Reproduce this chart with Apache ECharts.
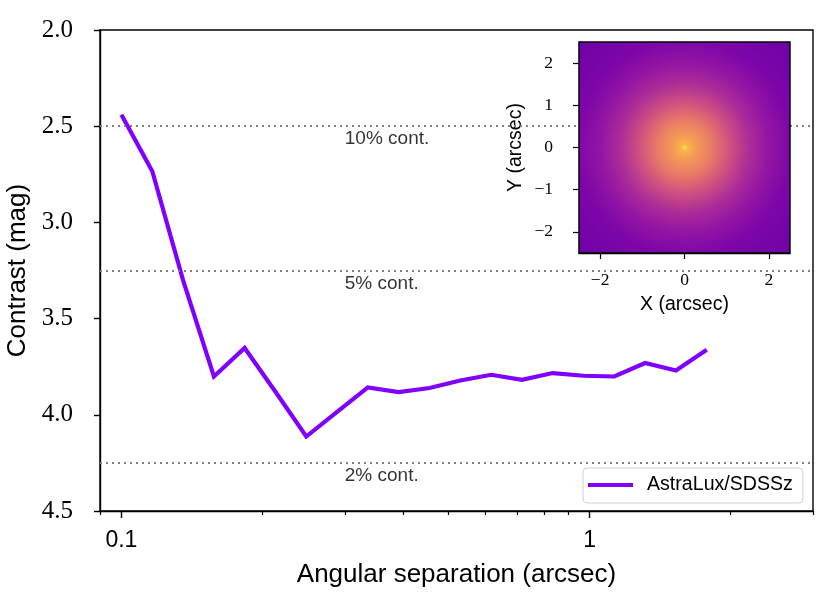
<!DOCTYPE html>
<html><head><meta charset="utf-8">
<script src="https://cdn.jsdelivr.net/npm/echarts@6/dist/echarts.min.js"></script>
<style>html,body{margin:0;padding:0;background:#fff}#c{width:830px;height:602px}</style>
</head><body><div id="c"></div>
<script>
// ---- data ----
const separations = [0.1, 0.1164, 0.1354, 0.1576, 0.1833, 0.2133, 0.2482, 0.2888, 0.3360, 0.3910,
                     0.4550, 0.5294, 0.6160, 0.7168, 0.8340, 0.9705, 1.129, 1.314, 1.529, 1.779];
const contrast = [2.44, 2.734, 3.30, 3.801, 3.653, 3.88, 4.113, 3.985, 3.858, 3.882,
                  3.861, 3.822, 3.792, 3.818, 3.783, 3.797, 3.801, 3.731, 3.770, 3.662];
const seriesName = 'AstraLux/SDSSz';
const contLevels = [2.5, 3.25, 4.25];
const contLabels = ['10% cont.', '5% cont.', '2% cont.'];
const contLabelX = 0.3;
const xMajorTicks = [0.1, 1];
const xMinorTicks = [0.09, 0.2, 0.3, 0.4, 0.5, 0.6, 0.7, 0.8, 0.9, 2, 3];
const xRange = [0.09, 3];
const yRange = [2.0, 4.5];
const yInterval = 0.5;
const insetRange = [-2.5, 2.5];
const insetXTicks = [-2, 0, 2];
const insetYTicks = [-2, -1, 0, 1, 2];

// ---- styles ----
const SANS = 'Liberation Sans, Arial, sans-serif';
const SERIF = 'Liberation Serif, Times New Roman, serif';
const lg = Math.log10;
const fmtMinus = v => (v < 0 ? '\u2212' + Math.abs(v) : String(v));

const chart = echarts.init(document.getElementById('c'));
chart.setOption({
  animation: false,
  backgroundColor: '#fff',
  grid: [
    { left: 100, top: 30, right: 17, bottom: 91, outerBoundsMode: 'none', containLabel: false,
      show: true, borderColor: '#000', borderWidth: 1.4, backgroundColor: 'transparent' },
    { left: 579, top: 42, width: 211, height: 211, outerBoundsMode: 'none', containLabel: false,
      show: true, z: 10, borderColor: '#000', borderWidth: 1.4,
      backgroundColor: { type: 'radial', x: 0.5, y: 0.5, r: 0.71, colorStops: [
        { offset: 0.0, color: '#f6ec35' },
        { offset: 0.018, color: '#f9b845' },
        { offset: 0.07, color: '#f59c55' },
        { offset: 0.18, color: '#ea7b66' },
        { offset: 0.30, color: '#cf5180' },
        { offset: 0.43, color: '#ad2c98' },
        { offset: 0.57, color: '#9114a4' },
        { offset: 0.71, color: '#7e06a8' },
        { offset: 1.0, color: '#6c01a8' }
      ] } }
  ],
  legend: {
    left: 583, top: 468, icon: 'rect', itemWidth: 45, itemHeight: 4,
    padding: [7, 10, 8, 5], backgroundColor: '#fff', borderColor: '#d0d0d0', borderWidth: 1, borderRadius: 4,
    textStyle: { fontFamily: SANS, fontSize: 19.6, color: '#000', padding: [0, 0, 0, 9] },
    data: [seriesName]
  },
  xAxis: [
    { gridIndex: 0, type: 'value', min: lg(xRange[0]), max: lg(xRange[1]), position: 'bottom',
      name: 'Angular separation (arcsec)', nameLocation: 'middle', nameGap: 51,
      nameTextStyle: { fontFamily: SANS, fontSize: 26, color: '#000' },
      axisLine: { show: true, onZero: false, lineStyle: { color: '#000', width: 1.4 } },
      axisTick: { show: true, customValues: xMajorTicks.map(lg), length: 7, lineStyle: { color: '#000', width: 1.4 } },
      axisLabel: { show: true, customValues: xMajorTicks.map(lg), margin: 18, fontFamily: SANS, fontSize: 23, color: '#000',
        formatter: v => String(+Math.pow(10, v).toPrecision(3)) },
      splitLine: { show: false } },
    { gridIndex: 0, type: 'value', min: lg(xRange[0]), max: lg(xRange[1]), position: 'bottom', offset: 0,
      axisLine: { show: false },
      axisTick: { show: true, customValues: xMinorTicks.map(lg), length: 4, lineStyle: { color: '#000', width: 1.2 } },
      axisLabel: { show: false }, splitLine: { show: false } },
    { gridIndex: 1, type: 'value', min: insetRange[0], max: insetRange[1], position: 'bottom',
      name: 'X (arcsec)', nameLocation: 'middle', nameGap: 42,
      nameTextStyle: { fontFamily: SANS, fontSize: 19.5, color: '#000' },
      axisLine: { show: true, onZero: false, lineStyle: { color: '#000', width: 1.4 } },
      axisTick: { show: true, customValues: insetXTicks, length: 6, lineStyle: { color: '#000', width: 1.2 } },
      axisLabel: { show: true, customValues: insetXTicks, margin: 18, fontFamily: SERIF, fontSize: 17.5, color: '#000', formatter: fmtMinus },
      splitLine: { show: false } }
  ],
  yAxis: [
    { gridIndex: 0, type: 'value', inverse: true, min: yRange[0], max: yRange[1], interval: yInterval,
      name: 'Contrast (mag)', nameLocation: 'middle', nameGap: 59,
      nameTextStyle: { fontFamily: SANS, fontSize: 26, color: '#000' },
      axisLine: { show: true, onZero: false, lineStyle: { color: '#000', width: 1.4 } },
      axisTick: { show: true, length: 6, lineStyle: { color: '#000', width: 1.4 } },
      axisLabel: { margin: 27, fontFamily: SERIF, fontSize: 25, color: '#000', formatter: v => v.toFixed(1) },
      splitLine: { show: false } },
    { gridIndex: 1, type: 'value', min: insetRange[0], max: insetRange[1],
      name: 'Y (arcsec)', nameLocation: 'middle', nameGap: 53,
      nameTextStyle: { fontFamily: SANS, fontSize: 19.5, color: '#000' },
      axisLine: { show: true, onZero: false, lineStyle: { color: '#000', width: 1.4 } },
      axisTick: { show: true, customValues: insetYTicks, length: 6, lineStyle: { color: '#000', width: 1.2 } },
      axisLabel: { show: true, customValues: insetYTicks, margin: 26, fontFamily: SERIF, fontSize: 17.5, color: '#000', formatter: fmtMinus },
      splitLine: { show: false } }
  ],
  series: [
    { name: seriesName, type: 'line', xAxisIndex: 0, yAxisIndex: 0,
      data: separations.map((s, i) => [lg(s), contrast[i]]),
      symbol: 'none', showSymbol: false, z: 3,
      color: '#7f00ff',
      lineStyle: { color: '#7f00ff', width: 4.2, join: 'miter' },
      markLine: { silent: true, symbol: ['none', 'none'], label: { show: false },
        lineStyle: { color: '#808080', width: 2, type: [2, 4] },
        data: contLevels.map(v => ({ yAxis: v })) } },
    { name: 'contLabels', type: 'scatter', xAxisIndex: 0, yAxisIndex: 0, silent: true,
      symbolSize: 0,
      data: contLevels.map((v, i) => [lg(contLabelX), v, contLabels[i]]),
      label: { show: true, position: 'right', distance: 0, offset: [0, 13],
        formatter: p => p.data[2], fontFamily: SANS, fontSize: 19, color: '#000' } }
  ]
});
</script></body></html>
